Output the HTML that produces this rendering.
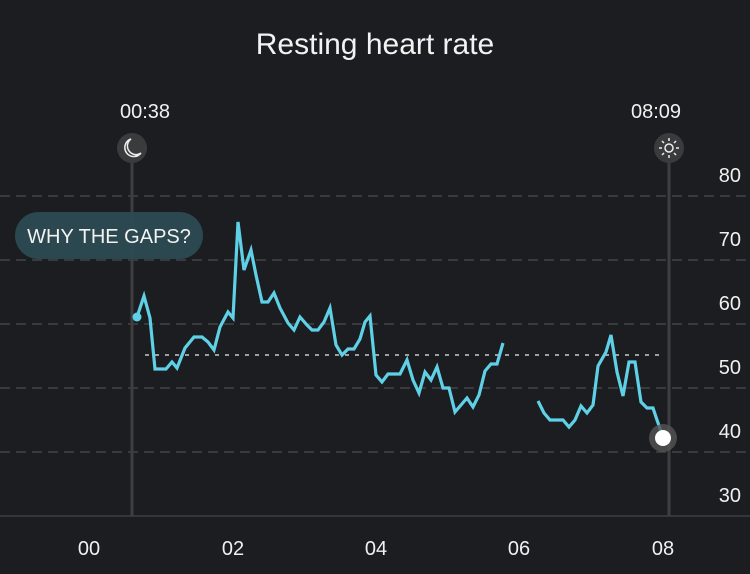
<!DOCTYPE html>
<html><head><style>
body{margin:0;width:750px;height:569px;background:#1b1d20;overflow:hidden;font-family:"Liberation Sans",sans-serif}
</style></head><body>
<svg width="750" height="569" xmlns="http://www.w3.org/2000/svg">
<rect width="750" height="569" fill="#1b1d20"/>
<text x="375" y="54" fill="#f2f2f2" font-size="30" text-anchor="middle" font-family="Liberation Sans">Resting heart rate</text>
<g stroke="#4a4c50" stroke-width="1.3" stroke-dasharray="10,6">
<line x1="0" y1="196" x2="750" y2="196"/><line x1="0" y1="260" x2="750" y2="260"/>
<line x1="0" y1="324" x2="750" y2="324"/><line x1="0" y1="388" x2="750" y2="388"/>
<line x1="0" y1="452" x2="750" y2="452"/>
</g>
<line x1="0" y1="516" x2="750" y2="516" stroke="#44464a" stroke-width="1.3"/>
<line x1="145" y1="355" x2="665" y2="355" stroke="#c8c8c8" stroke-width="1.5" stroke-dasharray="4,6"/>
<line x1="132" y1="150" x2="132" y2="516" stroke="#3e3e40" stroke-width="3"/>
<line x1="669" y1="150" x2="669" y2="516" stroke="#3e3e40" stroke-width="3"/>
<g fill="#f0f0f0" font-size="20" text-anchor="middle">
<text x="145" y="118">00:38</text><text x="656" y="118">08:09</text>
<text x="89" y="555">00</text><text x="233" y="555">02</text><text x="376" y="555">04</text><text x="519" y="555">06</text><text x="663" y="555">08</text>
</g>
<g fill="#f0f0f0" font-size="20" text-anchor="end">
<text x="741" y="182">80</text><text x="741" y="246">70</text><text x="741" y="310">60</text><text x="741" y="374">50</text><text x="741" y="438">40</text><text x="741" y="502">30</text>
</g>
<circle cx="132" cy="148" r="15" fill="#3a3b3d"/>
<path d="M131 139 A9 9 0 1 0 141 153 A8 8 0 0 1 131 139Z" fill="none" stroke="#eee" stroke-width="1.5"/>
<circle cx="669" cy="148" r="15" fill="#3a3b3d"/>
<circle cx="669" cy="148" r="4" fill="none" stroke="#eee" stroke-width="1.5"/>
<g stroke="#eee" stroke-width="1.5"><line x1="669" y1="138" x2="669" y2="141"/><line x1="669" y1="155" x2="669" y2="158"/><line x1="659" y1="148" x2="662" y2="148"/><line x1="676" y1="148" x2="679" y2="148"/><line x1="662" y1="141" x2="664" y2="143"/><line x1="674" y1="153" x2="676" y2="155"/><line x1="676" y1="141" x2="674" y2="143"/><line x1="662" y1="155" x2="664" y2="153"/></g>
<rect x="15" y="212" width="188" height="47" rx="23.5" fill="#2c4a52" opacity="0.95"/>
<text x="109" y="243" fill="#f2f2f2" font-size="20" text-anchor="middle">WHY THE GAPS?</text>
<g fill="none" stroke="#5fd0e6" stroke-width="3.2" stroke-linejoin="miter">
<polyline points="137,317 144,296 150,318 155,369 166,369 172,362 177,368 185,348 194,337 202,337 208,342 214,350 220,327 228,312 233,318 238,222 244,270 251,250 256,275 262,302 268,302 274,293 280,308 288,323 294,330 300,317 307,325 312,330 318,330 324,322 330,308 336,345 342,355 348,349 354,349 360,339 365,322 370,316 376,375 382,382 388,374 400,374 407,360 413,380 419,393 425,372 431,380 437,367 443,388 449,388 455,412 461,405 467,398 473,407 479,395 485,371 491,364 497,364 503,343"/>
<polyline points="538,401 544,413 550,420 560,420 563,420 569,427 575,420 581,406 587,413 593,405 598,366 606,352 611,335 617,372 623,396 629,362 635,362 641,402 647,408 653,408 657,420 663,437"/>
</g>
<circle cx="137" cy="317" r="4.5" fill="#5fd0e6"/>
<circle cx="663" cy="438" r="14" fill="#555" opacity="0.8"/>
<circle cx="663" cy="438" r="8" fill="#fff"/>
</svg>
</body></html>
